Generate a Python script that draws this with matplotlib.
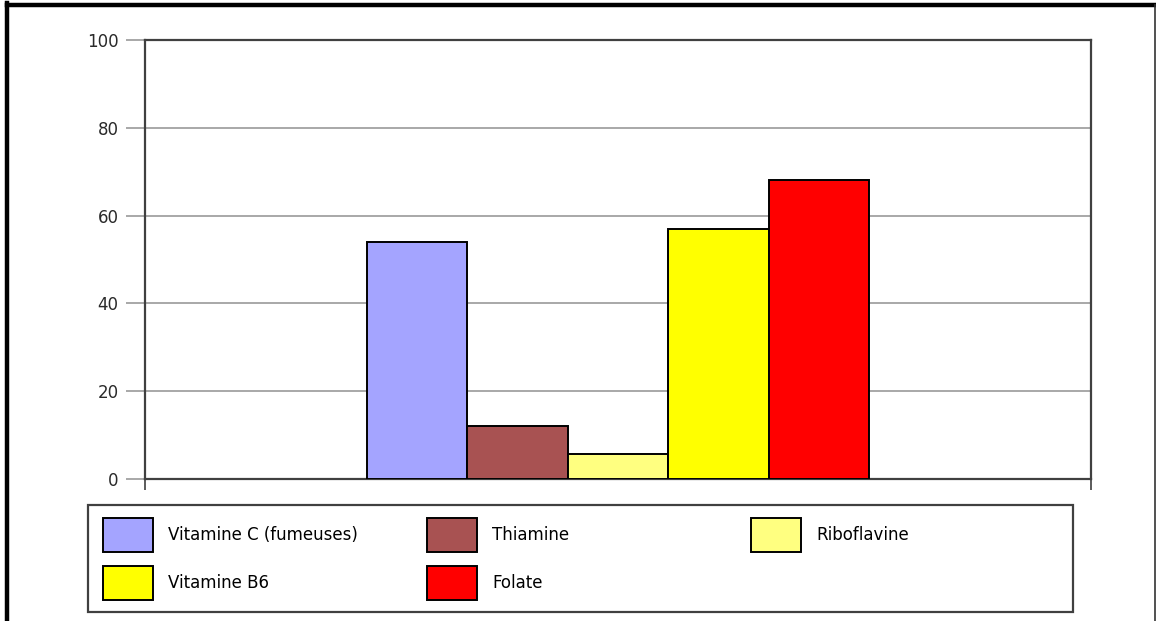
import matplotlib as mpl
mpl.use('Agg')
import matplotlib.pyplot as plt
from matplotlib.patches import Rectangle
from matplotlib.lines import Line2D

plt.rcParams['font.family'] = ['DejaVu Sans']

# series shown in the chart
series = ['Vitamine C (fumeuses)', 'Thiamine', 'Riboflavine', 'Vitamine B6', 'Folate']
values = [54, 12, 5.6, 57, 68]
colors = ['#a4a4ff', '#a85252', '#ffff80', '#ffff00', '#ff0000']
yticks = [0, 20, 40, 60, 80, 100]

W, H = 1156, 621
fig = plt.figure(figsize=(W / 100, H / 100), dpi=100)
fig.patch.set_facecolor('white')

# plot area (pixel box converted to figure fractions)
L, R, T, B = 145, 1091, 40, 479
ax = fig.add_axes([L / W, (H - B) / H, (R - L) / W, (B - T) / H])

bw = 0.1062
n = len(series)
for i in range(n):
    ax.bar((i - (n - 1) / 2) * bw, values[i], width=bw, color=colors[i],
           edgecolor='black', linewidth=1.4, zorder=3)

ax.set_xlim(-0.5, 0.5)
ax.set_ylim(0, 100)
ax.set_yticks(yticks)
ax.set_yticklabels([str(v) for v in yticks], fontsize=12, color='#2a2a2a')
ax.tick_params(axis='y', length=14, width=1.2, color='#999999', pad=5)
ax.set_xticks([-0.5, 0.5])
ax.set_xticklabels([])
ax.tick_params(axis='x', length=8, width=1.2, color='#404040', direction='out')
ax.grid(axis='y', color='#999999', linewidth=1.2, zorder=0)
ax.set_axisbelow(True)
for s in ax.spines.values():
    s.set_color('#404040')
    s.set_linewidth(1.6)

# legend box drawn in pixel coordinates
lg = fig.add_axes([0, 0, 1, 1], facecolor='none')
lg.set_xlim(0, W)
lg.set_ylim(H, 0)
lg.axis('off')
lg.add_patch(Rectangle((88, 505), 1073 - 88, 612 - 505, facecolor='white',
                       edgecolor='#404040', linewidth=1.6))
col_x = [103, 427, 751]
row_y = [518, 566]
for i, name in enumerate(series):
    cx = col_x[i % 3]
    ry = row_y[i // 3]
    lg.add_patch(Rectangle((cx, ry), 50, 34, facecolor=colors[i],
                           edgecolor='black', linewidth=1.4))
    lg.text(cx + 65, ry + 17, name, fontsize=12, color='black',
            ha='left', va='center')

# outer frame
fig.add_artist(Line2D([7 / W, 7 / W], [0, 1 - 3 / H], color='black', linewidth=3.2,
                      transform=fig.transFigure, solid_capstyle='projecting'))
fig.add_artist(Line2D([7 / W, 1], [1 - 5 / H, 1 - 5 / H], color='black', linewidth=3.2,
                      transform=fig.transFigure))
fig.add_artist(Line2D([1 - 1.5 / W, 1 - 1.5 / W], [0, 1 - 5 / H], color='#333333',
                      linewidth=1.2, transform=fig.transFigure))

fig.savefig('out.png', dpi=100)
